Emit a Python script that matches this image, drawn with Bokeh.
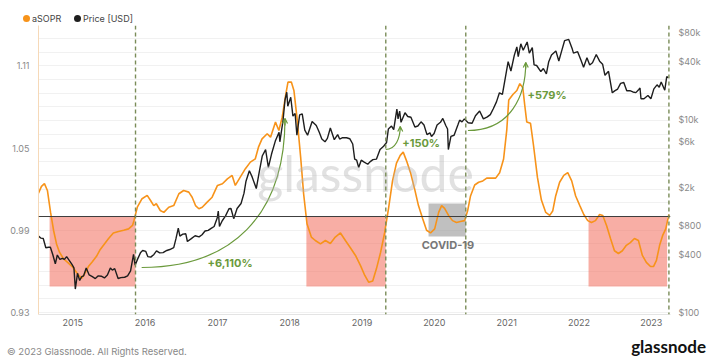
import pandas as pd
from bokeh.plotting import figure
from bokeh.layouts import column
from bokeh.models import (Range1d, LogScale, LogAxis, FixedTicker, Span, Label,
                          Arrow, OpenHead, DatetimeTickFormatter, Div)
from bokeh.embed import file_html
from bokeh.resources import INLINE
from bokeh.core.properties import value

# ---------------- data ----------------
asopr_dates = [
    "2014-07-12", "2014-07-27", "2014-08-11", "2014-08-26", "2014-09-11", "2014-09-26",
    "2014-10-11", "2014-10-26", "2014-11-16", "2014-12-06", "2015-01-01", "2015-01-26",
    "2015-02-15", "2015-03-01", "2015-03-21", "2015-04-10", "2015-05-01", "2015-05-20",
    "2015-06-10", "2015-07-01", "2015-07-25", "2015-08-20", "2015-09-15", "2015-10-10",
    "2015-10-30", "2015-11-06", "2015-11-23", "2015-12-17", "2016-01-12", "2016-01-29",
    "2016-02-14", "2016-02-27", "2016-03-18", "2016-04-05", "2016-04-30", "2016-05-25",
    "2016-06-20", "2016-07-14", "2016-08-09", "2016-08-26", "2016-09-12", "2016-09-29",
    "2016-10-16", "2016-11-10", "2016-12-05", "2017-01-01", "2017-01-26", "2017-02-20",
    "2017-03-16", "2017-04-01", "2017-04-26", "2017-05-22", "2017-06-16", "2017-07-11",
    "2017-07-27", "2017-08-14", "2017-09-09", "2017-09-26", "2017-10-21", "2017-11-07",
    "2017-11-24", "2017-12-11", "2017-12-23", "2018-01-09", "2018-01-22", "2018-02-08",
    "2018-02-25", "2018-03-12", "2018-03-29", "2018-04-20", "2018-05-10", "2018-06-05",
    "2018-06-30", "2018-07-25", "2018-08-19", "2018-09-14", "2018-10-09", "2018-11-04",
    "2018-11-29", "2018-12-25", "2019-01-15", "2019-02-04", "2019-02-24", "2019-03-15",
    "2019-04-05", "2019-04-25", "2019-05-15", "2019-06-04", "2019-06-24", "2019-07-13",
    "2019-07-28", "2019-08-13", "2019-09-03", "2019-09-23", "2019-10-13", "2019-11-03",
    "2019-11-23", "2019-12-13", "2020-01-03", "2020-01-23", "2020-02-07", "2020-02-22",
    "2020-03-13", "2020-04-02", "2020-04-22", "2020-05-12", "2020-06-02", "2020-06-17",
    "2020-07-02", "2020-07-23", "2020-08-12", "2020-09-02", "2020-09-22", "2020-10-12",
    "2020-11-06", "2020-11-26", "2020-12-16", "2021-01-01", "2021-01-11", "2021-02-01",
    "2021-02-21", "2021-03-08", "2021-03-23", "2021-04-02", "2021-04-12", "2021-05-01",
    "2021-05-16", "2021-06-05", "2021-06-25", "2021-07-17", "2021-08-06", "2021-08-21",
    "2021-09-05", "2021-09-25", "2021-10-16", "2021-11-05", "2021-11-25", "2021-12-15",
    "2022-01-05", "2022-01-25", "2022-02-14", "2022-03-05", "2022-03-25", "2022-04-15",
    "2022-05-01", "2022-05-20", "2022-06-09", "2022-06-29", "2022-07-19", "2022-08-08",
    "2022-08-28", "2022-09-17", "2022-10-08", "2022-10-28", "2022-11-17", "2022-12-07",
    "2022-12-28", "2023-01-12", "2023-01-27", "2023-02-12", "2023-02-27", "2023-03-15",
    "2023-03-31",
]
asopr_values = [
    1.017, 1.022, 1.024, 1.019, 1.003, 0.990,
    0.980, 0.974, 0.969, 0.9665, 0.963, 0.958,
    0.955, 0.958, 0.9635, 0.967, 0.971, 0.976,
    0.980, 0.984, 0.988, 0.989, 0.990, 0.991,
    0.9935, 0.997, 1.0068, 1.013, 1.0154, 1.0117,
    1.008, 1.0093, 1.0044, 1.003, 1.0068, 1.008,
    1.0166, 1.019, 1.0178, 1.0141, 1.008, 1.0057,
    1.0068, 1.0105, 1.0141, 1.0227, 1.0239, 1.0275,
    1.030, 1.0227, 1.0287, 1.0349, 1.0397, 1.0421,
    1.0506, 1.0567, 1.0604, 1.0579, 1.0689, 1.0628,
    1.0725, 1.0884, 1.0981, 1.0981, 1.092, 1.0701,
    1.0433, 1.0166, 0.9947, 0.985, 0.9825, 0.980,
    0.9825, 0.9803, 0.985, 0.988, 0.9825, 0.977,
    0.9716, 0.964, 0.957, 0.952, 0.953, 0.962,
    0.974, 0.988, 1.006, 1.026, 1.039, 1.0446,
    1.047, 1.041, 1.032, 1.0205, 1.008, 0.9986,
    0.990, 0.988, 0.991, 1.003, 1.008, 1.006,
    1.0008, 0.997, 0.9957, 0.9964, 0.997, 1.004,
    1.015, 1.023, 1.025, 1.026, 1.028, 1.028,
    1.028, 1.032, 1.042, 1.063, 1.085, 1.089,
    1.092, 1.097, 1.094, 1.081, 1.069, 1.068,
    1.052, 1.0285, 1.012, 1.003, 1.0008, 1.004,
    1.015, 1.025, 1.030, 1.032, 1.026, 1.015,
    1.008, 1.0015, 0.997, 0.9957, 0.997, 1.0015,
    1.0008, 0.9935, 0.984, 0.975, 0.973, 0.975,
    0.979, 0.981, 0.984, 0.9825, 0.9716, 0.9665,
    0.9635, 0.9635, 0.968, 0.979, 0.986, 0.991,
    1.0015,
]

price_dates = [
    "2014-07-12", "2014-07-25", "2014-08-05", "2014-08-18", "2014-09-01", "2014-09-10",
    "2014-09-22", "2014-10-05", "2014-10-15", "2014-10-28", "2014-11-10", "2014-11-20",
    "2014-12-01", "2014-12-15", "2014-12-28", "2015-01-07", "2015-01-14", "2015-01-25",
    "2015-02-05", "2015-02-15", "2015-02-25", "2015-03-10", "2015-03-25", "2015-04-10",
    "2015-04-25", "2015-05-10", "2015-05-25", "2015-06-10", "2015-06-25", "2015-07-10",
    "2015-07-20", "2015-08-01", "2015-08-18", "2015-09-01", "2015-09-20", "2015-10-05",
    "2015-10-20", "2015-11-04", "2015-11-12", "2015-11-25", "2015-12-10", "2015-12-20",
    "2016-01-05", "2016-01-15", "2016-01-30", "2016-02-15", "2016-02-28", "2016-03-15",
    "2016-04-01", "2016-04-20", "2016-05-05", "2016-05-25", "2016-06-05", "2016-06-17",
    "2016-06-25", "2016-07-10", "2016-07-25", "2016-08-02", "2016-08-20", "2016-09-10",
    "2016-09-30", "2016-10-15", "2016-10-30", "2016-11-15", "2016-11-30", "2016-12-15",
    "2016-12-31", "2017-01-05", "2017-01-11", "2017-01-25", "2017-02-10", "2017-02-28",
    "2017-03-10", "2017-03-24", "2017-04-10", "2017-04-30", "2017-05-15", "2017-05-25",
    "2017-06-11", "2017-06-25", "2017-07-16", "2017-07-31", "2017-08-15", "2017-09-01",
    "2017-09-15", "2017-10-01", "2017-10-20", "2017-11-08", "2017-11-12", "2017-11-28",
    "2017-12-08", "2017-12-17", "2017-12-22", "2018-01-06", "2018-01-17", "2018-01-28",
    "2018-02-06", "2018-02-20", "2018-03-05", "2018-03-18", "2018-04-01", "2018-04-24",
    "2018-05-15", "2018-05-30", "2018-06-12", "2018-06-28", "2018-07-10", "2018-07-25",
    "2018-08-14", "2018-08-31", "2018-09-10", "2018-09-25", "2018-10-15", "2018-10-31",
    "2018-11-15", "2018-11-25", "2018-12-05", "2018-12-15", "2018-12-28", "2019-01-10",
    "2019-01-30", "2019-02-10", "2019-02-25", "2019-03-15", "2019-04-02", "2019-04-20",
    "2019-05-05", "2019-05-14", "2019-05-30", "2019-06-10", "2019-06-26", "2019-07-02",
    "2019-07-10", "2019-07-17", "2019-08-06", "2019-08-20", "2019-09-05", "2019-09-25",
    "2019-10-10", "2019-10-26", "2019-11-10", "2019-11-25", "2019-12-10", "2019-12-18",
    "2019-12-31", "2020-01-15", "2020-02-01", "2020-02-13", "2020-02-28", "2020-03-08",
    "2020-03-12", "2020-03-25", "2020-04-10", "2020-04-29", "2020-05-08", "2020-05-20",
    "2020-06-01", "2020-06-20", "2020-07-10", "2020-07-27", "2020-08-17", "2020-09-05",
    "2020-09-25", "2020-10-10", "2020-10-25", "2020-11-10", "2020-11-25", "2020-12-10",
    "2020-12-20", "2021-01-08", "2021-01-22", "2021-02-08", "2021-02-21", "2021-02-28",
    "2021-03-13", "2021-03-25", "2021-04-14", "2021-04-25", "2021-05-10", "2021-05-19",
    "2021-06-01", "2021-06-22", "2021-07-05", "2021-07-20", "2021-08-01", "2021-08-15",
    "2021-09-06", "2021-09-21", "2021-10-05", "2021-10-20", "2021-11-10", "2021-11-28",
    "2021-12-04", "2021-12-25", "2022-01-10", "2022-01-24", "2022-02-10", "2022-02-24",
    "2022-03-10", "2022-03-29", "2022-04-15", "2022-04-30", "2022-05-12", "2022-05-30",
    "2022-06-18", "2022-06-30", "2022-07-15", "2022-07-30", "2022-08-15", "2022-08-30",
    "2022-09-15", "2022-09-30", "2022-10-15", "2022-10-30", "2022-11-05", "2022-11-10",
    "2022-11-25", "2022-12-15", "2022-12-30", "2023-01-14", "2023-01-30", "2023-02-10",
    "2023-02-20", "2023-03-10", "2023-03-20", "2023-03-28",
]
price_values = [
    620, 590, 585, 470, 475, 475,
    400, 320, 395, 355, 365, 355,
    380, 345, 315, 290, 175, 255,
    215, 235, 240, 290, 245, 235,
    225, 240, 238, 228, 245, 290,
    275, 285, 225, 230, 232, 240,
    270, 400, 310, 360, 420, 440,
    430, 380, 375, 400, 435, 415,
    418, 440, 450, 470, 580, 750,
    620, 650, 655, 545, 580, 625,
    608, 640, 700, 710, 745, 780,
    960, 1130, 780, 895, 1000, 1190,
    1200, 940, 1200, 1350, 1730, 2300,
    2950, 2550, 1930, 2870, 4200, 4900,
    3200, 4400, 6000, 7400, 5900, 9800,
    16000, 19300, 13800, 17100, 10900, 11600,
    6900, 11200, 11500, 7800, 6900, 9600,
    8700, 7400, 6300, 5900, 6400, 8200,
    6200, 7000, 6300, 6500, 6500, 6350,
    5600, 3900, 3800, 3200, 3800, 3650,
    3450, 3650, 3850, 3900, 4900, 5300,
    5800, 8000, 8600, 7900, 12900, 10200,
    12300, 9400, 11800, 10800, 10600, 8400,
    8600, 9500, 8800, 7000, 7300, 6700,
    7200, 8800, 9400, 10300, 8700, 8000,
    4900, 6700, 6900, 8800, 9900, 9500,
    10200, 9300, 9200, 11000, 12300, 10200,
    10700, 11300, 13000, 15300, 19000, 18300,
    24000, 40000, 32000, 46500, 57000, 45000,
    61200, 52500, 64000, 49000, 56000, 37000,
    36500, 31600, 34000, 29800, 40000, 47000,
    51700, 40600, 51500, 66000, 68000, 54000,
    49000, 50800, 41800, 35000, 44000, 37000,
    39000, 47500, 40500, 37700, 28900, 31800,
    19000, 19900, 20800, 23800, 24300, 20000,
    20000, 19400, 19100, 20600, 21300, 16500,
    16500, 17800, 16500, 20900, 23000, 21700,
    24600, 20200, 28000, 27200,
]

year_ticks = ["2015-01-01", "2016-01-01", "2017-01-01", "2018-01-01", "2019-01-01",
              "2020-01-01", "2021-01-01", "2022-01-01", "2023-01-01"]
asopr_ticks = [0.93, 0.99, 1.05, 1.11]
asopr_grid = [0.93, 0.94, 0.95, 0.96, 0.97, 0.98, 0.99, 1.00, 1.01, 1.02, 1.03,
              1.04, 1.05, 1.06, 1.07, 1.08, 1.09, 1.10, 1.11, 1.12, 1.13]
price_ticks = [100, 400, 800, 2000, 6000, 10000, 40000, 80000]
price_tick_labels = ["$100", "$400", "$800", "$2k", "$6k", "$10k", "$40k", "$80k"]

legend_labels = ["aSOPR", "Price [USD]"]

loss_zone_start = ["2014-09-06", "2018-03-26", "2022-02-18"]
loss_zone_end = ["2015-11-14", "2019-05-01", "2023-03-22"]
loss_zone_low = [0.949, 0.949, 0.949]
loss_zone_high = [1.0, 1.0, 1.0]
covid_start, covid_end, covid_low, covid_high = "2019-12-03", "2020-06-08", 0.9854, 1.0095
cycle_dates = ["2015-11-14", "2019-05-01", "2020-06-08", "2023-03-31"]

gain_labels = ["+6,110%", "+150%", "+579%"]
gain_label_dates = ["2016-11-12", "2019-07-23", "2021-04-16"]
gain_label_prices = [330, 5670, 18200]
arc_start_dates = ["2015-12-15", "2019-05-01", "2020-06-19"]
arc_start_prices = [293, 4910, 7730]
arc_end_dates = ["2017-12-08", "2019-07-13", "2021-04-07"]
arc_end_prices = [10300, 8490, 39200]
arc_c0_dates = ["2017-03-10", "2019-06-19", "2021-01-22"]
arc_c1_prices = [1000, 6380, 17800]
arrow_from_prices = [8700, 7900, 34000]

# ---------------- styling ----------------
ORANGE = "#f7931a"
BLACK = "#1e1e1e"
GREEN = "#6b9a3c"
DASH_GREEN = "#7a8c58"
FONT = "Inter"
W = 719


def ms(d):
    return pd.Timestamp(d).value / 1e6


# ---------------- header: legend ----------------
legend_html = ""
for lbl, col, left in zip(legend_labels, [ORANGE, BLACK], [23, 74]):
    legend_html += (
        f'<span style="position:absolute;left:{left}px;top:13px;height:12px;'
        f'line-height:12px;white-space:nowrap;">'
        f'<span style="display:inline-block;width:7px;height:7px;border-radius:50%;'
        f'background:{col};margin-right:2px;vertical-align:middle;position:relative;'
        f'top:-1px;"></span>{lbl}</span>'
    )
head = Div(text=(f'<div style="position:relative;width:{W}px;height:25px;'
                 f'font-family:Inter,sans-serif;font-size:9px;color:#444444;">'
                 f'{legend_html}</div>'),
           width=W, height=25, margin=0)

# ---------------- main chart ----------------
p = figure(width=W, height=309, x_axis_type="datetime",
           x_range=Range1d(pd.Timestamp("2014-07-12"), pd.Timestamp("2023-04-08")),
           y_range=Range1d(0.9285, 1.1394),
           output_backend="svg", toolbar_location=None,
           min_border_left=38, min_border_right=49, min_border_top=0, min_border_bottom=20)
p.outline_line_color = None
p.background_fill_color = "white"
p.border_fill_color = "white"

p.extra_y_ranges = {"price": Range1d(95.3, 94900)}
p.extra_y_scales = {"price": LogScale()}

p.xaxis.ticker = FixedTicker(ticks=[ms(d) for d in year_ticks])
p.xaxis.formatter = DatetimeTickFormatter(years="%Y", months="%Y", days="%Y", hours="%Y")
p.xaxis.axis_line_color = "#e4e4e4"
p.xaxis.major_label_text_color = "#666666"
p.xaxis.major_label_standoff = 4

p.yaxis.ticker = FixedTicker(ticks=asopr_ticks)
p.yaxis.axis_line_color = "#f6d9b8"
p.yaxis.major_label_text_color = "#8a8a8a"
p.yaxis.major_label_standoff = 9

rax = LogAxis(y_range_name="price", ticker=FixedTicker(ticks=price_ticks),
              major_label_overrides=dict(zip(price_ticks, price_tick_labels)))
rax.axis_line_color = None
rax.major_label_text_color = "#8a8a8a"
rax.major_label_standoff = 8
p.add_layout(rax, "right")

for ax in (p.xaxis[0], p.yaxis[0], rax):
    ax.major_tick_line_color = None
    ax.minor_tick_line_color = None
    ax.major_tick_out = 0
    ax.major_tick_in = 0
    ax.minor_tick_out = 0
    ax.minor_tick_in = 0
    ax.major_label_text_font = FONT
    ax.major_label_text_font_size = "9px"

p.xgrid.grid_line_color = None
p.ygrid.ticker = FixedTicker(ticks=asopr_grid)
p.ygrid.grid_line_color = "#f1f1f1"
p.ygrid.grid_line_width = 1

# watermark
p.add_layout(Label(x=327, y=142, x_units="screen", y_units="screen", text="glassnode",
                   text_font="Lato", text_font_size="50px", text_color="#b5b5b5",
                   text_alpha=0.4, text_align="center", text_baseline="middle"))

# shaded zones
p.quad(left=pd.to_datetime(loss_zone_start), right=pd.to_datetime(loss_zone_end),
       bottom=loss_zone_low, top=loss_zone_high,
       fill_color="#f26b5b", fill_alpha=0.55, line_color=None)
p.quad(left=[pd.Timestamp(covid_start)], right=[pd.Timestamp(covid_end)],
       bottom=[covid_low], top=[covid_high],
       fill_color="#9a9a9a", fill_alpha=0.62, line_color=None)

p.add_layout(Span(location=1.0, dimension="width", line_color="#3c3c3c", line_width=1))

for d in cycle_dates:
    p.add_layout(Span(location=ms(d), dimension="height", line_color=DASH_GREEN,
                      line_width=1.4, line_dash="4 3"))

p.line(pd.to_datetime(asopr_dates), asopr_values, line_color=ORANGE, line_width=1.6)
p.line(pd.to_datetime(price_dates), price_values, line_color=BLACK, line_width=1.4,
       y_range_name="price")

p.bezier(x0=pd.to_datetime(arc_start_dates), y0=arc_start_prices,
         x1=pd.to_datetime(arc_end_dates), y1=arc_end_prices,
         cx0=pd.to_datetime(arc_c0_dates), cy0=arc_start_prices,
         cx1=pd.to_datetime(arc_end_dates), cy1=arc_c1_prices,
         y_range_name="price", line_color=GREEN, line_width=1.2)
for d, y0, y1 in zip(arc_end_dates, arrow_from_prices, arc_end_prices):
    p.add_layout(Arrow(x_start=ms(d), y_start=y0, x_end=ms(d), y_end=y1,
                       y_range_name="price", line_color=GREEN, line_width=1.2,
                       end=OpenHead(size=5, line_color=GREEN, line_width=1.2)))
p.text(x=pd.to_datetime(gain_label_dates), y=gain_label_prices, text=gain_labels,
       y_range_name="price", text_color=GREEN, text_font=value(FONT),
       text_font_size="11px", text_font_style="bold", text_align="left",
       text_baseline="middle")

p.add_layout(Label(x=ms("2020-03-10"), y=0.979, text="COVID-19", text_color="#777777",
                   text_font=FONT, text_font_size="11px", text_font_style="bold",
                   text_align="center", text_baseline="middle"))

# ---------------- footer ----------------
foot = Div(text=(f'<div style="position:relative;width:{W}px;height:24px;">'
                 '<span style="position:absolute;left:7px;top:12px;line-height:12px;'
                 'font-family:Inter,sans-serif;font-size:9.5px;color:#888888;'
                 'white-space:nowrap;">© 2023 Glassnode. All Rights Reserved.</span>'
                 '<span style="position:absolute;right:13px;top:3px;line-height:20px;'
                 'font-family:Lato,sans-serif;font-weight:bold;font-size:17px;'
                 'color:#111111;white-space:nowrap;">glassnode</span></div>'),
           width=W, height=24, margin=0)

layout = column(head, p, foot, spacing=0)
open("out.html", "w").write(file_html(layout, INLINE))
